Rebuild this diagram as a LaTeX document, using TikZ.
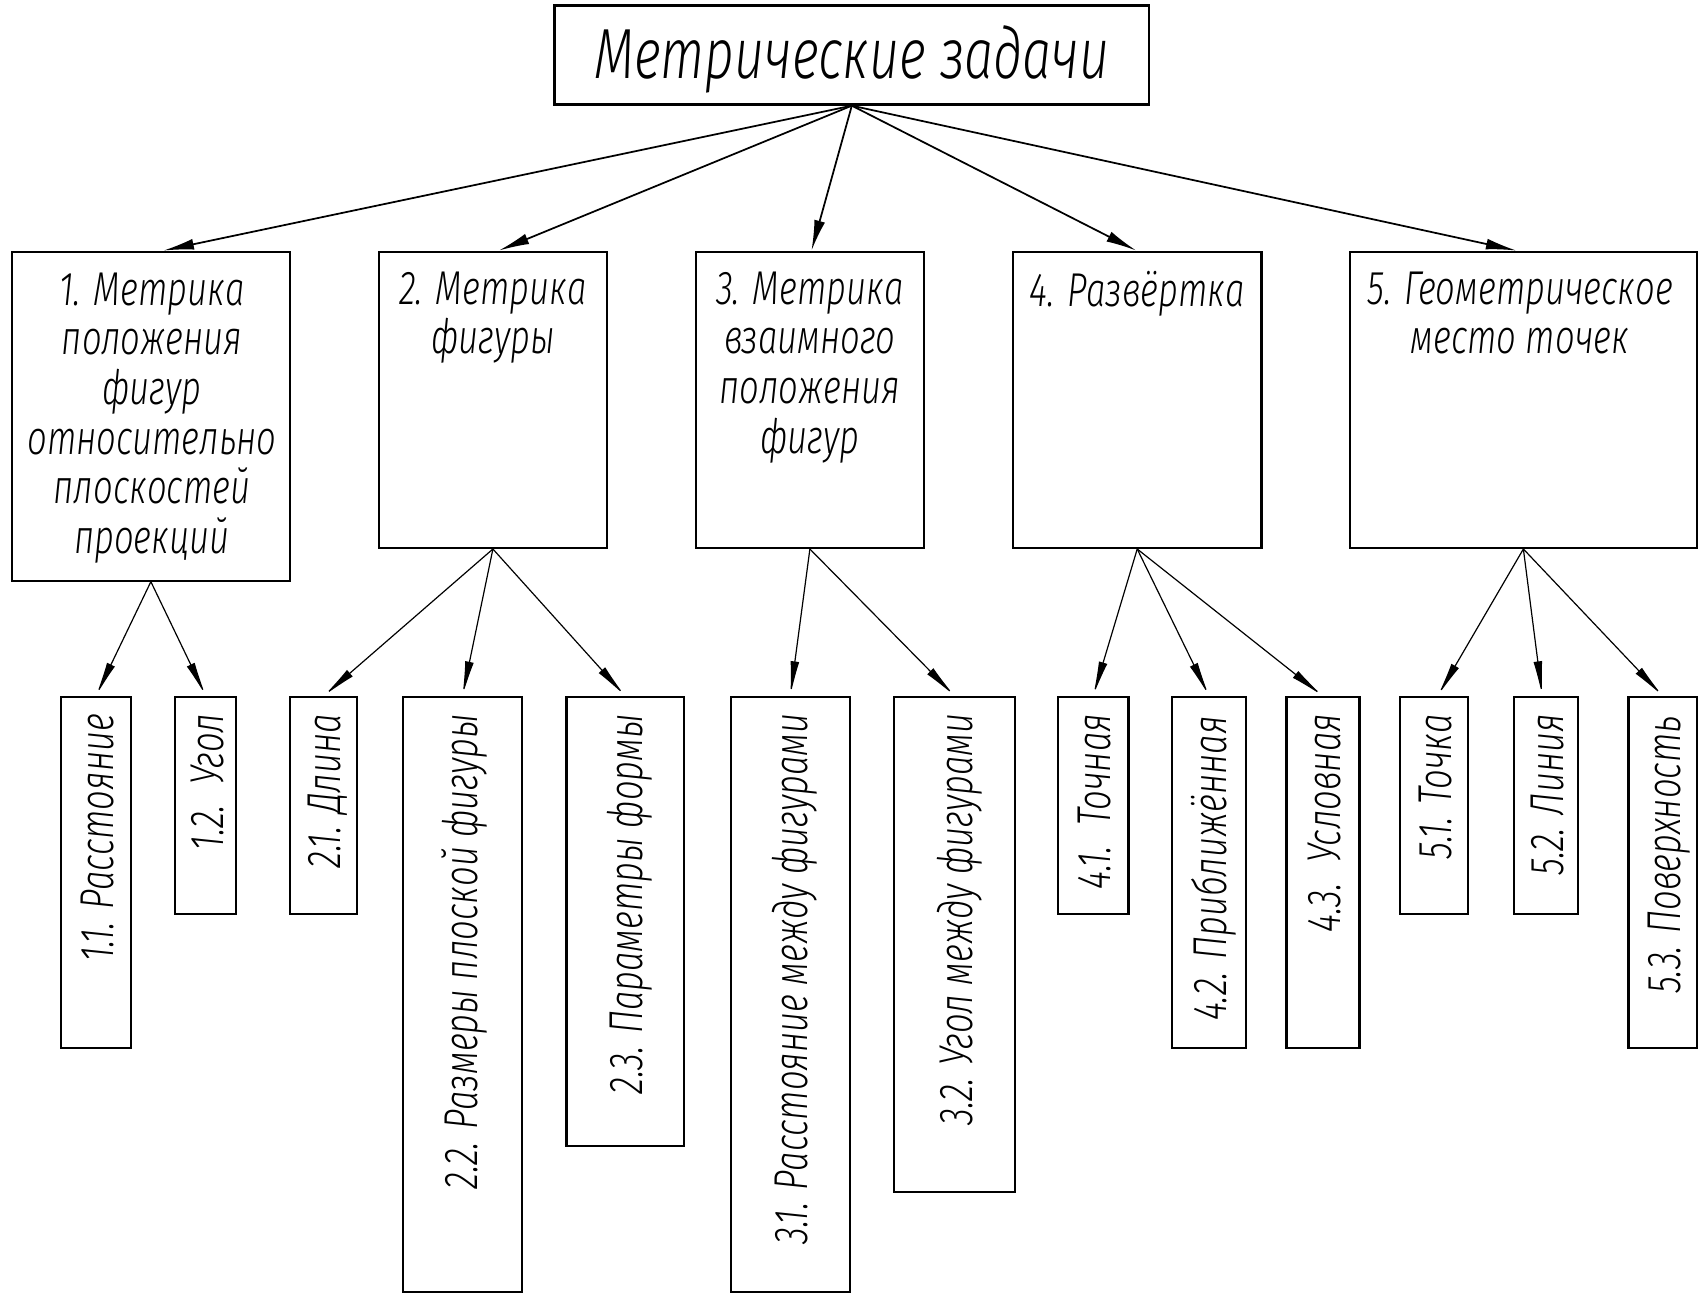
\documentclass[tikz,border=0pt]{standalone}
\usepackage{fontspec}
\usetikzlibrary{arrows.meta,fit,calc}
\IfFontExistsTF{Fira Sans Light Italic}
  {\newfontfamily\gost{Fira Sans Light Italic}[FakeStretch=0.73]}
  {\newfontfamily\gost{Fira Sans}[FakeStretch=0.73,FakeSlant=0.2]}
\tikzset{
  box/.style={draw, line width=1pt, inner sep=0pt},
  lbl/.style={font=\gost\fontsize{21.8}{22.8}\selectfont, align=center, inner sep=0pt, anchor=north},
  vlbl/.style={font=\gost\fontsize{21.8}{22.8}\selectfont, inner sep=0pt, rotate=90, anchor=base east},
  ttl/.style={font=\gost\fontsize{32.6}{36}\selectfont, inner sep=0pt, anchor=base},
  arrT/.style={line width=0.8pt, -{Latex[length=14pt,width=5pt]}},
  arrB/.style={line width=0.55pt, -{Latex[length=16pt,width=4pt]}}
}
\begin{document}
\begin{tikzpicture}[x=0.5pt,y=-0.5pt]
\useasboundingbox (0,0) rectangle (1568,1191);
% top
\node[box, fit={(509,5)(1055,96)}] (top) {};
\node[ttl] (ttlT) at (782,72) {Метрические задачи};
% level 2
\node[box, fit={(11,231)(266,533)}] (b1) {};
\node[box, fit={(348,231)(557,503)}] (b2) {};
\node[box, fit={(639,231)(848,503)}] (b3) {};
\node[box, fit={(930,231)(1158,503)}] (b4) {};
\node[box, fit={(1239,231)(1558,503)}] (b5) {};
\node[lbl] (t1) at ($(b1.north)+(1,20)$) {1. Метрика\\положения\\фигур\\относительно\\плоскостей\\проекций};
\node[lbl] (t2) at ($(b2.north)+(0,19)$) {2. Метрика\\фигуры};
\node[lbl] (t3) at ($(b3.north)+(0,19)$) {3. Метрика\\взаимного\\положения\\фигур};
\node[lbl] (t4) at ($(b4.north)+(0,19)$) {4. Развёртка};
\node[lbl] (t5) at ($(b5.north)+(-3,19)$) {5. Геометрическое\\место точек};
% level 3
\node[box, fit={(56,640)(120,962)}] (c11) {};
\node[box, fit={(161,640)(217,839)}] (c12) {};
\node[box, fit={(266,640)(328,839)}] (c21) {};
\node[box, fit={(370,640)(479,1186)}] (c22) {};
\node[box, fit={(520,640)(628,1052)}] (c23) {};
\node[box, fit={(671,640)(780,1186)}] (c31) {};
\node[box, fit={(821,640)(932,1094)}] (c32) {};
\node[box, fit={(971,640)(1036,839)}] (c41) {};
\node[box, fit={(1076,640)(1144,962)}] (c42) {};
\node[box, fit={(1181,640)(1248,962)}] (c43) {};
\node[box, fit={(1285,640)(1348,839)}] (c51) {};
\node[box, fit={(1390,640)(1449,839)}] (c52) {};
\node[box, fit={(1495,640)(1558,962)}] (c53) {};
\node[vlbl] (v11) at ($(c11.north)+(16,16)$) {1.1. Расстояние};
\node[vlbl] (v12) at ($(c12.north)+(16,16)$) {1.2.\, Угол};
\node[vlbl] (v21) at ($(c21.north)+(16,16)$) {2.1. Длина};
\node[vlbl] (v22) at ($(c22.north)+(14,16)$) {2.2. Размеры плоской фигуры};
\node[vlbl] (v23) at ($(c23.north)+(16,16)$) {2.3. Параметры формы};
\node[vlbl] (v31) at ($(c31.north)+(16,16)$) {3.1. Расстояние между фигурами};
\node[vlbl] (v32) at ($(c32.north)+(16,16)$) {3.2. Угол между фигурами};
\node[vlbl] (v41) at ($(c41.north)+(16,16)$) {4.1.\, Точная};
\node[vlbl] (v42) at ($(c42.north)+(16,18)$) {4.2. Приближённая};
\node[vlbl] (v43) at ($(c43.north)+(16,16)$) {4.3.\, Условная};
\node[vlbl] (v51) at ($(c51.north)+(16,16)$) {5.1. Точка};
\node[vlbl] (v52) at ($(c52.north)+(16,16)$) {5.2. Линия};
\node[vlbl] (v53) at ($(c53.north)+(16,18)$) {5.3. Поверхность};
% arrows top -> level 2
\draw[arrT] (top.south) -- ($(b1.north west)!0.545!(b1.north east)$);
\draw[arrT] (top.south) -- ($(b2.north west)!0.526!(b2.north east)$);
\draw[arrT] (top.south) -- ($(b3.north west)!0.507!(b3.north east)$);
\draw[arrT] (top.south) -- ($(b4.north west)!0.496!(b4.north east)$);
\draw[arrT] (top.south) -- ($(b5.north west)!0.48!(b5.north east)$);
% arrows level 2 -> level 3
\draw[arrB] (b1.south) -- (c11.north);
\draw[arrB] (b1.south) -- (c12.north);
\draw[arrB] (b2.south) -- (c21.north);
\draw[arrB] (b2.south) -- (c22.north);
\draw[arrB] (b2.south) -- (c23.north);
\draw[arrB] (b3.south) -- (c31.north);
\draw[arrB] (b3.south) -- (c32.north);
\draw[arrB] (b4.south) -- (c41.north);
\draw[arrB] (b4.south) -- (c42.north);
\draw[arrB] (b4.south) -- (c43.north);
\draw[arrB] (b5.south) -- ($(c51.north west)!0.55!(c51.north east)$);
\draw[arrB] (b5.south) -- ($(c52.north west)!0.44!(c52.north east)$);
\draw[arrB] (b5.south) -- (c53.north);
\end{tikzpicture}
\end{document}
